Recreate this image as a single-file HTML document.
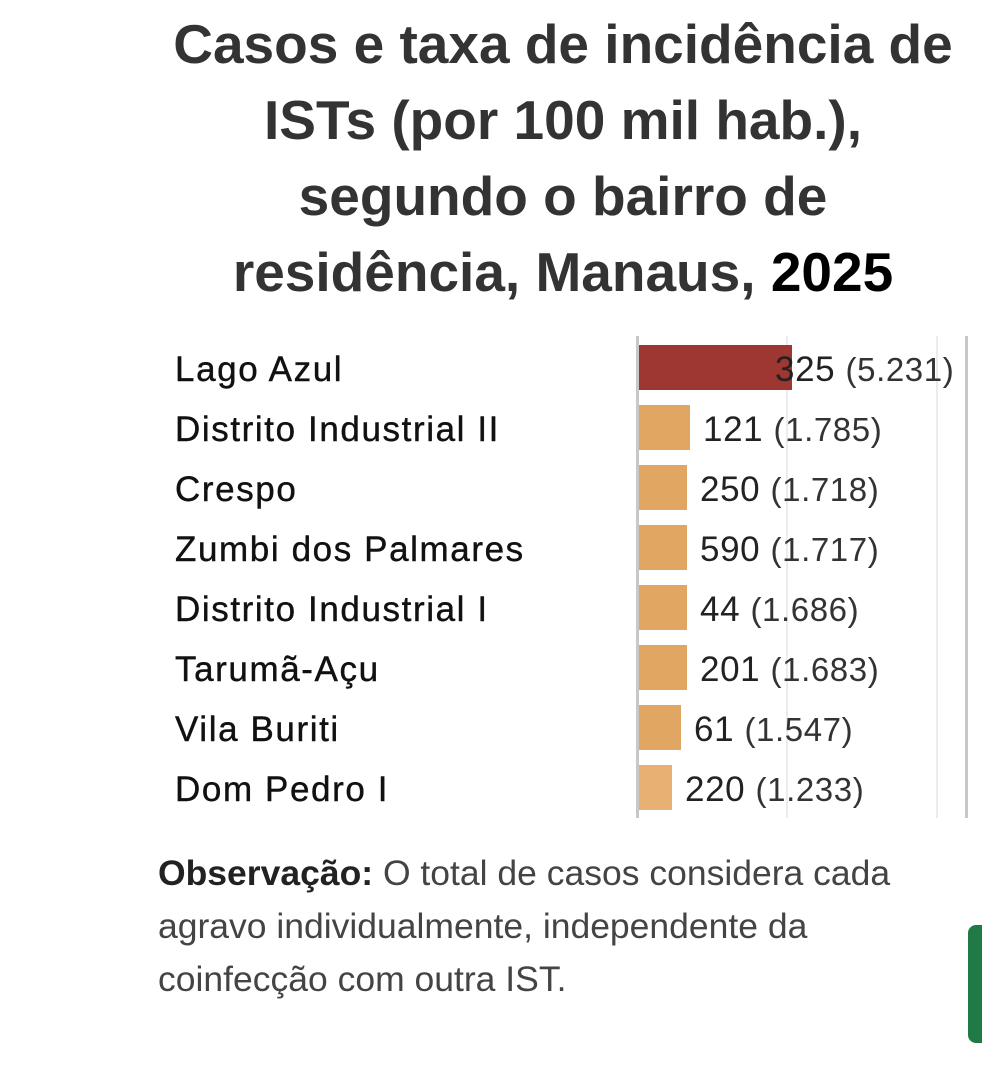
<!DOCTYPE html>
<html><head><meta charset="utf-8"><style>
body{margin:0;width:982px;height:1075px;background:#fff;position:relative;overflow:hidden;font-family:"Liberation Sans",sans-serif;}
.t{position:absolute;left:100px;width:926px;top:6px;text-align:center;font-weight:bold;font-size:55px;line-height:76px;color:#333;letter-spacing:0px}
.l{position:absolute;left:175px;font-size:35px;color:#111;letter-spacing:1.6px;line-height:40px;-webkit-text-stroke:0.4px #111}
.b{position:absolute;left:639px;height:45px;background:#e2a663}
.v{position:absolute;font-size:35px;color:#222;line-height:40px;letter-spacing:0.6px}
.v span{font-size:33px;color:#333}
.g{position:absolute;top:336px;height:482px}
.o{position:absolute;left:158px;top:847px;font-size:35.5px;line-height:53px;color:#444;width:760px}
</style></head><body>
<div class="t">Casos e taxa de incidência de<br>ISTs (por 100 mil hab.),<br>segundo o bairro de<br>residência, Manaus, <span style="color:#000">2025</span></div>
<div class="g" style="left:636px;width:3px;background:#c8c8c8"></div>
<div class="g" style="left:786px;width:2px;background:#ececec"></div>
<div class="g" style="left:936px;width:2px;background:#ececec"></div>
<div class="g" style="left:965px;width:3px;background:#c8c8c8"></div>

<div class="b" style="top:345px;width:153px;background:#9e3632"></div>
<div class="b" style="top:405px;width:51px"></div>
<div class="b" style="top:465px;width:48px"></div>
<div class="b" style="top:525px;width:48px"></div>
<div class="b" style="top:585px;width:48px"></div>
<div class="b" style="top:645px;width:48px"></div>
<div class="b" style="top:705px;width:42px"></div>
<div class="b" style="top:765px;width:33px;background:#e8b173"></div>

<div class="l" style="top:350px">Lago Azul</div>
<div class="l" style="top:410px">Distrito Industrial II</div>
<div class="l" style="top:470px">Crespo</div>
<div class="l" style="top:530px">Zumbi dos Palmares</div>
<div class="l" style="top:590px">Distrito Industrial I</div>
<div class="l" style="top:650px">Tarumã-Açu</div>
<div class="l" style="top:710px">Vila Buriti</div>
<div class="l" style="top:770px">Dom Pedro I</div>

<div class="v" style="left:775px;top:350px">325 <span>(5.231)</span></div>
<div class="v" style="left:703px;top:410px">121 <span>(1.785)</span></div>
<div class="v" style="left:700px;top:470px">250 <span>(1.718)</span></div>
<div class="v" style="left:700px;top:530px">590 <span>(1.717)</span></div>
<div class="v" style="left:700px;top:590px">44 <span>(1.686)</span></div>
<div class="v" style="left:700px;top:650px">201 <span>(1.683)</span></div>
<div class="v" style="left:694px;top:710px">61 <span>(1.547)</span></div>
<div class="v" style="left:685px;top:770px">220 <span>(1.233)</span></div>

<div class="o"><b style="color:#222">Observação:</b> O total de casos considera cada<br>agravo individualmente, independente da<br>coinfecção com outra IST.</div>
<div style="position:absolute;left:968px;top:925px;width:30px;height:118px;background:#1f7a45;border-radius:8px"></div>
</body></html>
